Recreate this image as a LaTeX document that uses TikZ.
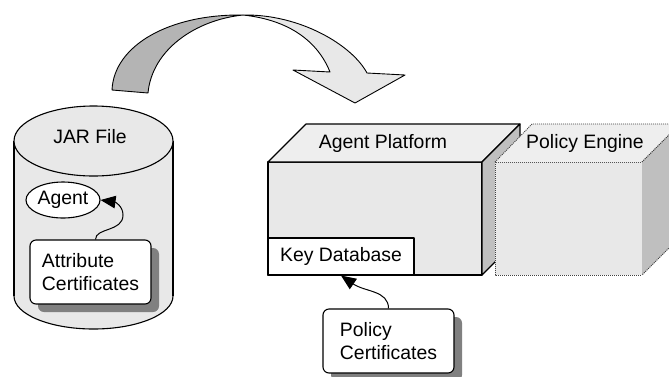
\documentclass[tikz,border=0pt]{standalone}
\usepackage{fontspec}
\setmainfont{Liberation Sans}
\usetikzlibrary{arrows.meta,shadows,shapes.geometric}
\definecolor{lightfill}{HTML}{E8E8E8}
\definecolor{topfill}{HTML}{EEEEEE}
\definecolor{sidefill}{HTML}{BFBFBF}
\definecolor{darkarrow}{HTML}{B4B4B4}
\begin{document}
\begin{tikzpicture}[x=1pt,y=-1pt,
  font=\fontsize{19.4pt}{22.5pt}\selectfont,
  outl/.style={draw=black, line width=1.1pt, line join=round},
  dotl/.style={draw=black!75, line width=0.9pt, dash pattern=on 1pt off 1pt},
  certbox/.style={outl, fill=white, rounded corners=6pt, align=left,
    minimum height=64pt, inner sep=0pt,
    drop shadow={shadow xshift=8pt, shadow yshift=-8pt, fill=black!50, opacity=1}},
  conn/.style={line width=1pt, -{Triangle[length=15pt,width=12.5pt]}}
]
\useasboundingbox[fill=white] (0,0) rectangle (669,376);

% big curved arrow
\draw[outl, line width=0.9pt, fill=darkarrow] (112,90) .. controls (114,45) and (170,14) .. (243,15)
  .. controls (195,20) and (152,50) .. (148,93) -- cycle;
\draw[outl, line width=0.9pt, fill=lightfill] (243,15) .. controls (300,14) and (352,45) .. (367,73)
  -- (405,75) -- (355,103) -- (293,70) -- (330,72) .. controls (318,42) and (290,20) .. (243,15) -- cycle;

% cylinder (JAR file)
\fill[lightfill] (93.5,296) ellipse [x radius=79.5pt, y radius=33pt];
\draw[outl] (93.5,296) ellipse [x radius=79.5pt, y radius=33pt];
\fill[lightfill] (14,141) rectangle (173,296);
\draw[outl] (14,141) -- (14,296) (173,141) -- (173,296);
\draw[outl, fill=lightfill] (93.5,141) ellipse [x radius=79.5pt, y radius=35pt];
\node (jar) at (90,137) {JAR File};

\node[outl, fill=white, ellipse, minimum width=74pt, minimum height=36pt, inner sep=0pt] (agent) at (63,200) {Agent};
\node[certbox, minimum width=121pt] (attr) at (90.5,272) {Attribute\\Certificates};
\draw[conn] ([xshift=5pt]attr.north) .. controls +(0,-12) and (123,232) .. (123,215)
  .. controls (123,206) and (115,202) .. (agent.east);

% Agent Platform box
\draw[outl, fill=lightfill] (268,162) rectangle (482,275);
\draw[outl, fill=topfill] (268,162) -- (306,124) -- (520,124) -- (482,162) -- cycle;
\draw[outl, fill=sidefill] (482,162) -- (520,124) -- (520,237) -- (482,275) -- cycle;
\node (ap) at (383,143) {Agent Platform};

% Policy Engine box
\fill[lightfill] (495,162) rectangle (642,275);
\draw[dotl] (495,162) rectangle (642,275);
\fill[topfill] (495,162) -- (532,124) -- (680,124) -- (642,162) -- cycle;
\draw[dotl] (495,162) -- (532,124) -- (680,124) -- (642,162);
\fill[sidefill] (642,162) -- (680,124) -- (680,237) -- (642,275) -- cycle;
\draw[dotl] (642,162) -- (680,124) (680,237) -- (642,275);
\node (pe) at (585,143) {Policy Engine};

\node[outl, fill=white, minimum width=146pt, minimum height=37pt, inner sep=0pt] (kd) at (341,256.5) {Key Database};

\node[certbox, minimum width=131pt] (pol) at (388.5,341) {Policy\\Certificates};
\draw[conn] (pol.north) .. controls +(0,-18) and (365,292) .. (kd.south);
\end{tikzpicture}
\end{document}
